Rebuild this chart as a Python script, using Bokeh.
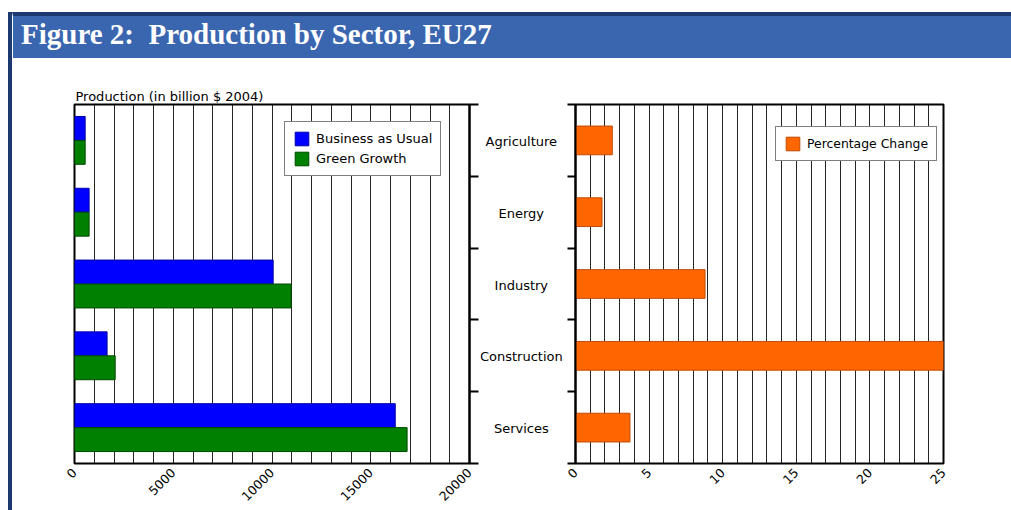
import math
from bokeh.plotting import figure
from bokeh.models import (Range1d, LinearAxis, FixedTicker, SingleIntervalTicker,
                          ColumnDataSource, Div, Spacer, Legend)
from bokeh.layouts import row, column
from bokeh.transform import dodge
from bokeh.core.properties import value
from bokeh.embed import file_html
from bokeh.resources import INLINE

# ---------------- data ----------------
sectors = ["Agriculture", "Energy", "Industry", "Construction", "Services"]
bau = [540, 740, 10060, 1650, 16240]          # Business as Usual (billion $ 2004)
green = [540, 740, 10970, 2060, 16840]        # Green Growth (billion $ 2004)
pct_change = [2.5, 1.8, 8.8, 25.0, 3.7]       # Percentage Change
left_ticks = [0, 5000, 10000, 15000, 20000]
left_tick_labels = ["0", "5000", "10000", "15000", "20000"]
right_ticks = [0, 5, 10, 15, 20, 25]
right_tick_labels = ["0", "5", "10", "15", "20", "25"]

title_text = "Figure 2:&nbsp; Production by Sector, EU27"
left_title = "Production (in billion $ 2004)"

NAVY = "#1c3a6f"
BANNER = "#3a66b0"
FONT = "DejaVu Sans"

n = len(sectors)
# category slots: first sector on top
slot_centers = [n - i - 0.5 for i in range(n)]
boundaries = list(range(n + 1))

PH = 452          # plot heights
TOP, BOTTOM = 46, 47


def base_fig(x_end, width, left, right):
    p = figure(width=width, height=PH, output_backend="svg", toolbar_location=None,
               x_range=Range1d(0, x_end), y_range=Range1d(0, n),
               x_axis_location=None, y_axis_location=None,
               min_border_left=left, min_border_right=right,
               min_border_top=TOP, min_border_bottom=BOTTOM)
    p.outline_line_color = "black"
    p.outline_line_width = 2
    p.outline_line_alpha = 1
    p.ygrid.visible = False
    p.xgrid.grid_line_color = "#000000"
    p.xgrid.grid_line_width = 1
    p.xgrid.grid_line_alpha = 0.85
    p.background_fill_color = "white"
    p.border_fill_color = "white"
    return p


def boundary_axis(tick_out):
    # only (minor) tick marks at the category boundaries, no labels
    return LinearAxis(ticker=FixedTicker(ticks=[], minor_ticks=boundaries),
                      major_tick_line_color=None, major_tick_out=0, major_tick_in=0,
                      minor_tick_out=tick_out, minor_tick_in=0, minor_tick_line_width=2,
                      minor_tick_line_color="black", axis_line_width=2, axis_line_color="black")


def value_axis(ticks, texts):
    return LinearAxis(ticker=FixedTicker(ticks=ticks, minor_ticks=[]),
                      major_label_overrides={t: s for t, s in zip(ticks, texts)},
                      major_label_orientation=math.pi / 4, major_label_standoff=7,
                      major_label_text_font=FONT, major_label_text_font_size="12.5px",
                      major_label_text_color="black",
                      major_tick_line_color=None, major_tick_out=0, major_tick_in=0,
                      axis_line_color=None)


def legend(items, loc, size):
    return Legend(items=items, location=loc, margin=0, padding=8, spacing=3,
                  glyph_width=17, glyph_height=17, label_height=17, label_standoff=6,
                  label_text_font=FONT, label_text_font_size=size, label_text_color="black",
                  border_line_color="black", border_line_width=1,
                  background_fill_color="white", background_fill_alpha=1)


# ---------------- left chart ----------------
p1 = base_fig(20000, 468, 62, 11)
p1.xgrid.ticker = SingleIntervalTicker(interval=1000)
p1.title.text = left_title
p1.title.align = "left"
p1.title.text_font = FONT
p1.title.text_font_size = "13px"
p1.title.text_font_style = "normal"
p1.title.text_color = "black"
p1.title.offset = 1
p1.title.standoff = 2

src1 = ColumnDataSource(dict(y=slot_centers, sector=sectors, bau=bau, green=green))
r_bau = p1.hbar(y=dodge("y", 1 / 6), left=0, right="bau", height=1 / 3,
                source=src1, fill_color="#0000ff", line_color="#0000a8", line_width=1)
r_gg = p1.hbar(y=dodge("y", -1 / 6), left=0, right="green", height=1 / 3,
               source=src1, fill_color="#008000", line_color="#004a00", line_width=1)
p1.add_layout(boundary_axis(9), "right")
p1.add_layout(value_axis(left_ticks, left_tick_labels), "below")
p1.add_layout(legend([("Business as Usual", [r_bau]), ("Green Growth", [r_gg])], (210, 287), "13px"),
              "center")

# ---------------- category labels between the charts ----------------
pm = figure(width=85, height=PH, output_backend="svg", toolbar_location=None,
            x_range=Range1d(0, 1), y_range=Range1d(0, n),
            x_axis_location=None, y_axis_location=None,
            min_border_left=0, min_border_right=0, min_border_top=TOP, min_border_bottom=BOTTOM)
pm.outline_line_color = None
pm.xgrid.visible = False
pm.ygrid.visible = False
pm.background_fill_color = "white"
pm.border_fill_color = "white"
pm.text(x=[0.48] * n, y=slot_centers, text=sectors, text_align="center", text_baseline="middle",
        text_font=value(FONT), text_font_size=value("13px"), text_color="black", y_offset=1)

# ---------------- right chart ----------------
p2 = base_fig(25, 446, 10, 68)
p2.xgrid.ticker = SingleIntervalTicker(interval=1)
src2 = ColumnDataSource(dict(y=slot_centers, sector=sectors, pct=pct_change))
r_pct = p2.hbar(y="y", left=0, right="pct", height=0.4, source=src2,
                fill_color="#ff6600", line_color="#c04a00", line_width=1)
p2.add_layout(boundary_axis(8), "left")
p2.add_layout(value_axis(right_ticks, right_tick_labels), "below")
p2.add_layout(legend([("Percentage Change", [r_pct])], (200, 302), "12.4px"), "center")

# ---------------- banner & frame ----------------
banner = Div(width=999, height=46, margin=0, text=(
    '<div style="box-sizing:border-box;width:999px;height:46px;margin:0;'
    f'background:{BANNER};border-top:4px solid {NAVY};border-left:1px solid #ffffff;'
    "color:#ffffff;font-family:'Liberation Serif';font-weight:bold;font-size:29px;"
    f'line-height:36px;padding-left:8px;white-space:nowrap">{title_text}</div>'))
left_border = Div(width=4, height=498, margin=0, text=(
    f'<div style="width:4px;height:498px;margin:0;background:{NAVY}"></div>'))

layout = column(Spacer(width=1011, height=12, margin=0),
                row(Spacer(width=8, height=498, margin=0), left_border,
                    column(banner, row(p1, pm, p2))))

open("out.html", "w").write(file_html(layout, INLINE))
